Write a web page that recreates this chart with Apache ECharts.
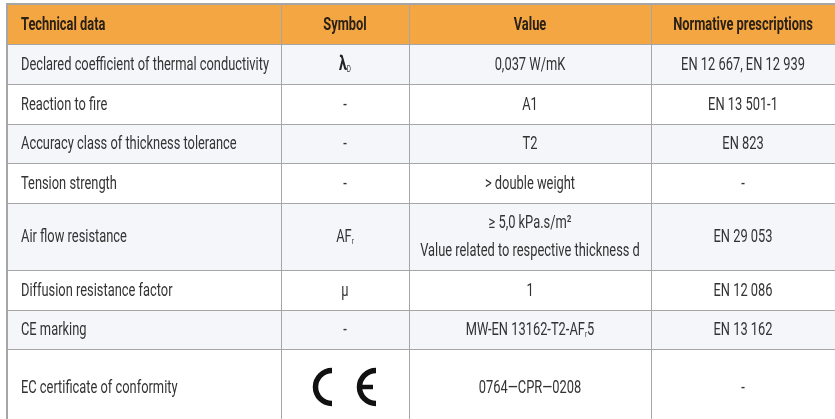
<!DOCTYPE html>
<html>
<head>
<meta charset="utf-8">
<script src="https://cdn.jsdelivr.net/npm/echarts@6/dist/echarts.min.js"></script>
<style>
html, body { margin: 0; padding: 0; background: #fff; }
#chart { width: 835px; height: 419px; }
</style>
</head>
<body>
<div id="chart"></div>
<script>
/* ===========================
   Data
=========================== */

const headers = ["Technical data", "Symbol", "Value", "Normative prescriptions"];

const properties = [
    "Declared coefficient of thermal conductivity",
    "Reaction to fire",
    "Accuracy class of thickness tolerance",
    "Tension strength",
    "Air flow resistance",
    "Diffusion resistance factor",
    "CE marking",
    "EC certificate of conformity"
];

const symbols = ["{lam|λ}{sub|D}", "-", "-", "-", "AF{sub|r}", "µ", "-", "CE"];

const values = [
    "0,037 W/mK",
    "A1",
    "T2",
    "> double weight",
    "{line|≥ 5,0 kPa.s/m²}\n{line|Value related to respective thickness d}",
    "1",
    "MW-EN 13162-T2-AF{sub|r}5",
    "0764—CPR—0208"
];

const norms = [
    "EN 12 667, EN 12 939",
    "EN 13 501-1",
    "EN 823",
    "-",
    "EN 29 053",
    "EN 12 086",
    "EN 13 162",
    "-"
];

/* ===========================
   Layout (px units of the grid)
=========================== */

const colEdges = [0, 272.5, 401, 642.5, 827];
const rowEdges = [0, 39, 78.5, 119, 158, 197.5, 265, 305, 344, 420];

const FONT = "Roboto, 'Noto Sans', sans-serif";
const SIZE = 18;
const LINE = "#a6a6a6";
const TEXT = "#333333";

// squeeze a regular font so it reads like the narrow face of the original
function measure(str, weight) {
    const ctx = document.createElement("canvas").getContext("2d");
    ctx.font = weight + " " + SIZE + "px " + FONT;
    return ctx.measureText(str).width;
}
const SCALE_X = 248 / measure(properties[0], "normal");

const columns = [properties, symbols, values, norms];

const cells = [];
for (let r = 0; r < rowEdges.length - 1; r++) {
    for (let c = 0; c < headers.length; c++) {
        cells.push([c, r]);
    }
}

function cellText(c, r) {
    return r === 0 ? headers[c] : columns[c][r - 1];
}

function ceMark(cx, cy) {
    const st = { stroke: "#111", lineWidth: 5.5, fill: null };
    return [
        { type: "arc", shape: { cx: cx - 13, cy: cy, r: 16.5, startAngle: Math.PI / 2, endAngle: Math.PI * 1.5, clockwise: true }, style: st, z2: 5 },
        { type: "arc", shape: { cx: cx + 31, cy: cy, r: 16.5, startAngle: Math.PI / 2, endAngle: Math.PI * 1.5, clockwise: true }, style: st, z2: 5 },
        { type: "rect", shape: { x: cx + 15, y: cy - 2.25, width: 13, height: 4.5 }, style: { fill: "#111" }, z2: 5 }
    ];
}

function renderCell(params, api) {
    const c = api.value(0);
    const r = api.value(1);
    const p0 = api.coord([colEdges[c], rowEdges[r]]);
    const p1 = api.coord([colEdges[c + 1], rowEdges[r + 1]]);
    const x0 = Math.round(p0[0]), y0 = Math.round(p0[1]);
    const x1 = Math.round(p1[0]), y1 = Math.round(p1[1]);

    const fill = r === 0 ? "#f4a642" : (r % 2 === 1 ? "#f5f6f9" : "#ffffff");
    const children = [
        { type: "rect", shape: { x: x0, y: y0, width: x1 - x0, height: y1 - y0 }, style: { fill: fill }, z2: 0 },
        { type: "line", shape: { x1: x0, y1: y1 + 0.5, x2: x1, y2: y1 + 0.5 }, style: { stroke: LINE, lineWidth: 1 }, z2: 10 },
        { type: "line", shape: { x1: x1 + 0.5, y1: y0, x2: x1 + 0.5, y2: y1 }, style: { stroke: LINE, lineWidth: 1 }, z2: 10 }
    ];
    if (r === 0) {
        children.push({ type: "line", shape: { x1: x0, y1: y0 - 1, x2: x1 + 1, y2: y0 - 1 }, style: { stroke: LINE, lineWidth: 2 }, z2: 11 });
    }
    if (c === 0) {
        children.push({ type: "line", shape: { x1: x0 - 1, y1: y0 - 2, x2: x0 - 1, y2: y1 + 1 }, style: { stroke: LINE, lineWidth: 2 }, z2: 11 });
    }

    const text = cellText(c, r);
    const cy = (y0 + y1) / 2 + 1;
    if (text === "CE") {
        children.push(...ceMark((x0 + x1) / 2, cy - 1));
    } else {
        const left = c === 0;
        children.push({
            type: "text",
            x: left ? x0 + 13 : (x0 + x1) / 2,
            y: cy,
            scaleX: SCALE_X,
            z2: 5,
            style: {
                text: text,
                x: 0,
                y: 0,
                align: left ? "left" : "center",
                verticalAlign: "middle",
                fontFamily: FONT,
                fontSize: SIZE,
                fontWeight: r === 0 ? "bold" : "normal",
                fill: r === 0 ? "#2b2116" : TEXT,
                rich: {
                    lam: { fontSize: 20, fontWeight: "bold", fontFamily: FONT, fill: "#222" },
                    sub: { fontSize: 9, fontFamily: FONT, fill: TEXT, padding: [9, 0, 0, 0] },
                    line: { fontSize: SIZE, fontFamily: FONT, fill: TEXT, lineHeight: 28 }
                }
            }
        });
    }
    return { type: "group", children: children };
}

/* ===========================
   Chart
=========================== */

const chart = echarts.init(document.getElementById("chart"));

chart.setOption({
    animation: false,
    grid: { left: 8, top: 5, right: 0, bottom: 0 },
    xAxis: { type: "value", min: 0, max: 827, show: false },
    yAxis: { type: "value", min: 0, max: 414, inverse: true, show: false },
    series: [{
        type: "custom",
        coordinateSystem: "cartesian2d",
        renderItem: renderCell,
        clip: false,
        data: cells
    }]
});
</script>
</body>
</html>
